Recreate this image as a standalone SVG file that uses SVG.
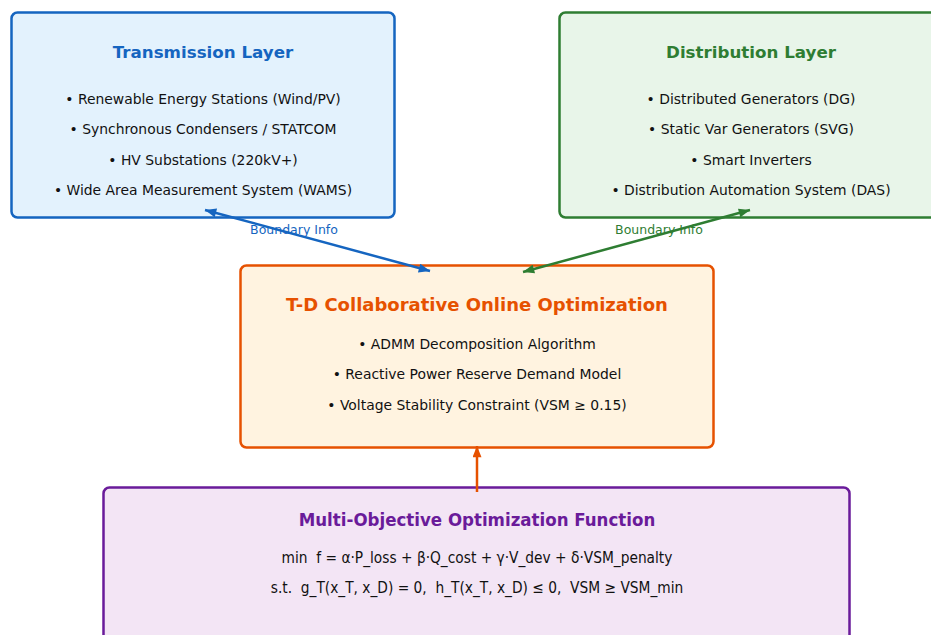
<svg xmlns="http://www.w3.org/2000/svg" width="931" height="635" viewBox="0 0 931 635">
  <style>
    .box { stroke-width: 2.5; }
    .title { font-family: "DejaVu Sans", "Liberation Sans", sans-serif; font-weight: bold; font-size: 16.7px; text-anchor: middle; dominant-baseline: central; }
    .item { font-family: "DejaVu Sans", "Liberation Sans", sans-serif; font-size: 13.9px; fill: #111; text-anchor: middle; dominant-baseline: central; }
    .eq { font-family: "DejaVu Sans Condensed", "DejaVu Sans", sans-serif; font-size: 15.3px; fill: #111; text-anchor: middle; dominant-baseline: central; white-space: pre; }
    .lbl { font-family: "DejaVu Sans", "Liberation Sans", sans-serif; font-size: 12.5px; text-anchor: middle; dominant-baseline: central; }
    .conn { fill: none; stroke-width: 2.5; }
  </style>
  <defs>
    <marker id="headBlue" viewBox="0 0 10 8" refX="10" refY="4" markerWidth="12" markerHeight="9" markerUnits="userSpaceOnUse" orient="auto-start-reverse">
      <path d="M0,0 L10,4 L0,8 Z" fill="#1565c0"/>
    </marker>
    <marker id="headGreen" viewBox="0 0 10 8" refX="10" refY="4" markerWidth="12" markerHeight="9" markerUnits="userSpaceOnUse" orient="auto-start-reverse">
      <path d="M0,0 L10,4 L0,8 Z" fill="#2e7d32"/>
    </marker>
    <marker id="headOrange" viewBox="0 0 10 8" refX="10" refY="4" markerWidth="12" markerHeight="9" markerUnits="userSpaceOnUse" orient="auto-start-reverse">
      <path d="M0,0 L10,4 L0,8 Z" fill="#e65100"/>
    </marker>
  </defs>

  <rect width="931" height="635" fill="#ffffff"/>

  <!-- Transmission layer -->
  <g id="transmission">
    <rect class="box" x="11.5" y="12.5" width="383" height="205" rx="6" fill="#e3f2fd" stroke="#1565c0"/>
    <text class="title" x="203" y="52" fill="#1565c0">Transmission Layer</text>
    <text class="item" x="203" y="99">• Renewable Energy Stations (Wind/PV)</text>
    <text class="item" x="203" y="129">• Synchronous Condensers / STATCOM</text>
    <text class="item" x="203" y="160">• HV Substations (220kV+)</text>
    <text class="item" x="203" y="190">• Wide Area Measurement System (WAMS)</text>
  </g>

  <!-- Distribution layer -->
  <g id="distribution">
    <rect class="box" x="559.5" y="12.5" width="383" height="205" rx="6" fill="#e8f5e9" stroke="#2e7d32"/>
    <text class="title" x="751" y="52" fill="#2e7d32">Distribution Layer</text>
    <text class="item" x="751" y="99">• Distributed Generators (DG)</text>
    <text class="item" x="751" y="129">• Static Var Generators (SVG)</text>
    <text class="item" x="751" y="160">• Smart Inverters</text>
    <text class="item" x="751" y="190">• Distribution Automation System (DAS)</text>
  </g>

  <!-- Coordinated optimisation -->
  <g id="coordination">
    <rect class="box" x="240.5" y="265.5" width="473" height="182" rx="6" fill="#fff3e0" stroke="#e65100"/>
    <text class="title" x="477" y="304" fill="#e65100" style="font-size:18px">T-D Collaborative Online Optimization</text>
    <text class="item" x="477" y="344">• ADMM Decomposition Algorithm</text>
    <text class="item" x="477" y="374">• Reactive Power Reserve Demand Model</text>
    <text class="item" x="477" y="405">• Voltage Stability Constraint (VSM ≥ 0.15)</text>
  </g>

  <!-- Objective function -->
  <g id="objective">
    <rect class="box" x="103.5" y="487.5" width="746" height="160" rx="6" fill="#f3e5f5" stroke="#6a1b9a"/>
    <text class="title" x="477" y="519" fill="#6a1b9a" style="font-family:'DejaVu Sans Condensed','DejaVu Sans',sans-serif;font-size:18.5px">Multi-Objective Optimization Function</text>
    <text class="eq" x="477" y="558" xml:space="preserve">min  f = α·P_loss + β·Q_cost + γ·V_dev + δ·VSM_penalty</text>
    <text class="eq" x="477" y="588" xml:space="preserve">s.t.  g_T(x_T, x_D) = 0,  h_T(x_T, x_D) ≤ 0,  VSM ≥ VSM_min</text>
  </g>

  <!-- Connectors -->
  <g id="connectors">
    <line class="conn" x1="205" y1="210" x2="430" y2="271" stroke="#1565c0" marker-start="url(#headBlue)" marker-end="url(#headBlue)"/>
    <text class="lbl" x="294" y="229" fill="#1565c0">Boundary Info</text>
    <line class="conn" x1="750" y1="210" x2="523" y2="272" stroke="#2e7d32" marker-start="url(#headGreen)" marker-end="url(#headGreen)"/>
    <text class="lbl" x="659" y="229" fill="#2e7d32">Boundary Info</text>
    <line class="conn" x1="477" y1="492" x2="477" y2="446" stroke="#e65100" marker-end="url(#headOrange)"/>
  </g>
</svg>
